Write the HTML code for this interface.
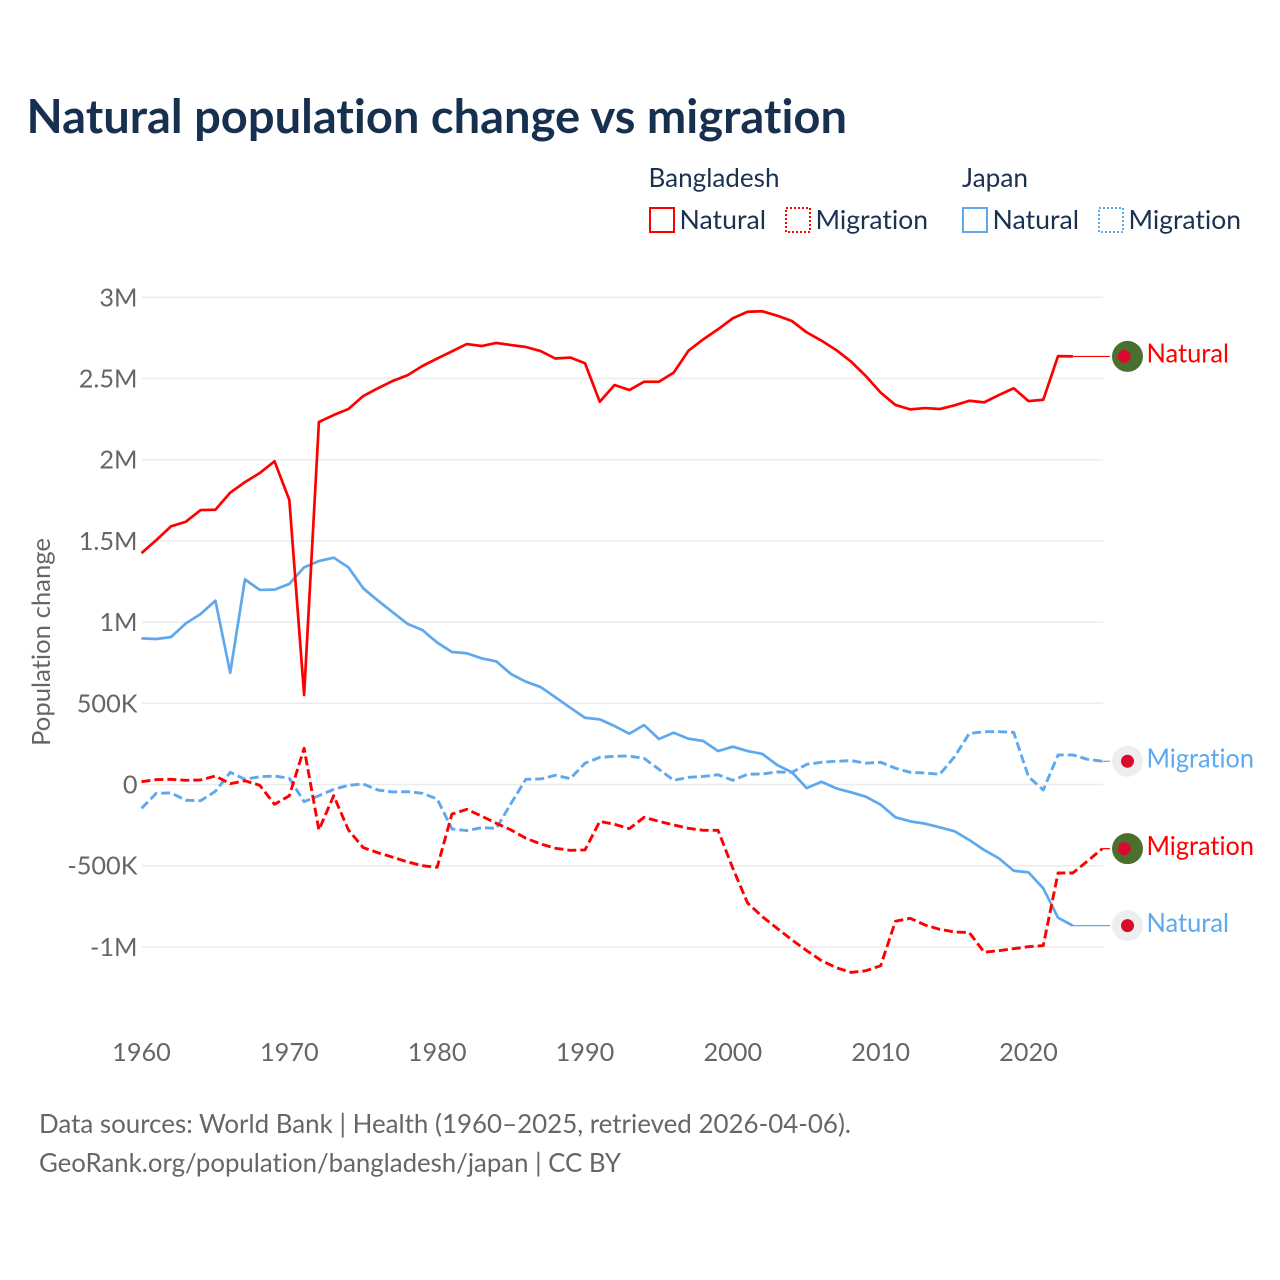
<!DOCTYPE html>
<html lang="en">
<head>
<meta charset="utf-8">
<title>Natural population change vs migration</title>
<style>
html,body{margin:0;padding:0;background:#fff;}
svg{display:block;}
text{font-family:"Lato","Carlito","Liberation Sans",sans-serif;font-variant-ligatures:none;font-feature-settings:"liga" 0,"clig" 0;}
</style>
</head>
<body>
<svg id="chart" xmlns="http://www.w3.org/2000/svg" width="1280" height="1280" viewBox="0 0 1280 1280">
  <rect x="0" y="0" width="1280" height="1280" fill="#ffffff"/>
  <text x="26.5" y="133" font-size="47" font-weight="700" fill="#18304f" textLength="820.5" lengthAdjust="spacingAndGlyphs">Natural population change vs migration</text>

  <g font-size="26" fill="#1a3150">
    <text x="648.5" y="187" textLength="131" lengthAdjust="spacingAndGlyphs">Bangladesh</text>
    <text x="962" y="187" textLength="66" lengthAdjust="spacingAndGlyphs">Japan</text>
    <rect x="650" y="208" width="24" height="24" fill="none" stroke="#ff0000" stroke-width="2"/>
    <text x="679.5" y="229" textLength="86.5" lengthAdjust="spacingAndGlyphs">Natural</text>
    <rect x="786" y="208" width="24" height="24" fill="none" stroke="#ff0000" stroke-width="2" stroke-dasharray="2 2"/>
    <text x="815.5" y="229" textLength="112.5" lengthAdjust="spacingAndGlyphs">Migration</text>
    <rect x="963" y="208" width="24" height="24" fill="none" stroke="#5ea8ee" stroke-width="2"/>
    <text x="992.5" y="229" textLength="86.5" lengthAdjust="spacingAndGlyphs">Natural</text>
    <rect x="1099" y="208" width="24" height="24" fill="none" stroke="#5ea8ee" stroke-width="2" stroke-dasharray="2 2"/>
    <text x="1128.5" y="229" textLength="112.5" lengthAdjust="spacingAndGlyphs">Migration</text>
  </g>

  <g id="grid"></g>
  <g id="yticks"></g>
  <g id="xticks"></g>
  <g id="series"></g>
  <g id="endlabels"></g>

  <text transform="translate(50,642) rotate(-90)" text-anchor="middle" font-size="25" fill="#666666" textLength="208" lengthAdjust="spacingAndGlyphs">Population change</text>
  <text x="39" y="1133" font-size="26" fill="#666666" textLength="812" lengthAdjust="spacingAndGlyphs">Data sources: World Bank | Health (1960–2025, retrieved 2026-04-06).</text>
  <text x="39" y="1172" font-size="26" fill="#666666" textLength="582" lengthAdjust="spacingAndGlyphs">GeoRank.org/population/bangladesh/japan | CC BY</text>
</svg>
<script>
const startYear = 1960;
const xTickYears = [1960, 1970, 1980, 1990, 2000, 2010, 2020];
const yTickValues = [3, 2.5, 2, 1.5, 1, 0.5, 0, -0.5, -1];
const yTickLabels = ['3M', '2.5M', '2M', '1.5M', '1M', '500K', '0', '-500K', '-1M'];

// Values in millions of people, one per year from 1960.
const bangladeshNatural = [1.425,1.505,1.59,1.618,1.69,1.692,1.797,1.862,1.918,1.99,1.752,0.551,2.232,2.275,2.312,2.392,2.44,2.485,2.52,2.577,2.623,2.667,2.712,2.70,2.719,2.706,2.694,2.669,2.623,2.629,2.594,2.357,2.46,2.429,2.48,2.48,2.536,2.671,2.741,2.803,2.871,2.911,2.914,2.887,2.854,2.784,2.733,2.675,2.604,2.515,2.413,2.337,2.31,2.318,2.312,2.335,2.363,2.353,2.398,2.44,2.361,2.369,2.638,2.636];
const bangladeshMigration = [0.017,0.03,0.032,0.026,0.028,0.052,0.005,0.023,-0.005,-0.122,-0.069,0.223,-0.28,-0.069,-0.28,-0.389,-0.42,-0.448,-0.477,-0.5,-0.51,-0.182,-0.153,-0.194,-0.239,-0.28,-0.331,-0.366,-0.393,-0.405,-0.403,-0.227,-0.245,-0.272,-0.202,-0.227,-0.249,-0.27,-0.282,-0.282,-0.516,-0.73,-0.814,-0.886,-0.957,-1.023,-1.085,-1.128,-1.157,-1.147,-1.116,-0.842,-0.824,-0.865,-0.892,-0.908,-0.912,-1.033,-1.023,-1.011,-0.999,-0.992,-0.545,-0.545,-0.471,-0.395];
const japanNatural = [0.90,0.896,0.908,0.992,1.05,1.132,0.688,1.263,1.198,1.20,1.235,1.337,1.376,1.397,1.337,1.208,1.132,1.06,0.989,0.951,0.874,0.816,0.808,0.777,0.758,0.68,0.633,0.60,0.537,0.473,0.411,0.401,0.36,0.313,0.366,0.28,0.319,0.282,0.268,0.206,0.233,0.206,0.188,0.12,0.075,-0.022,0.017,-0.024,-0.048,-0.075,-0.124,-0.202,-0.227,-0.241,-0.264,-0.288,-0.342,-0.403,-0.455,-0.531,-0.541,-0.639,-0.82,-0.869];
const japanMigration = [-0.147,-0.054,-0.052,-0.097,-0.1,-0.042,0.075,0.032,0.048,0.052,0.038,-0.106,-0.069,-0.03,-0.005,0.003,-0.034,-0.046,-0.044,-0.054,-0.089,-0.274,-0.284,-0.266,-0.27,-0.116,0.032,0.034,0.057,0.036,0.131,0.167,0.174,0.175,0.161,0.094,0.026,0.044,0.05,0.06,0.026,0.063,0.065,0.077,0.075,0.124,0.137,0.143,0.147,0.131,0.137,0.1,0.075,0.071,0.063,0.171,0.315,0.325,0.325,0.321,0.048,-0.034,0.182,0.182,0.155,0.143];

const NS = 'http://www.w3.org/2000/svg';
const RED = '#ff0000';
const BLUE = '#5ea8ee';
const xOf = function (year) { return 141.5 + (year - 1960) * 14.783; };
const yOf = function (m) { return 784.5 - m * 162.4; };

const make = function (tag, parent, attrs) {
  const el = document.createElementNS(NS, tag);
  Object.keys(attrs).forEach(function (k) { el.setAttribute(k, attrs[k]); });
  parent.appendChild(el);
  return el;
};

const grid = document.getElementById('grid');
const yticks = document.getElementById('yticks');
yTickValues.forEach(function (v, i) {
  const line = make('line', grid, {x1: 142, x2: 1103, y1: yOf(v), y2: yOf(v), stroke: '#ebebeb', 'stroke-width': 1.5});
  
  
  const t = make('text', yticks, {x: 137.5, y: yOf(v) + 9, 'text-anchor': 'end', 'font-size': 25.3, fill: '#666666'});
  t.textContent = yTickLabels[i];
  
  
});

const xticks = document.getElementById('xticks');
xTickYears.forEach(function (yr) {
  const t = make('text', xticks, {x: xOf(yr), y: 1061, 'text-anchor': 'middle', 'font-size': 25.3, fill: '#666666'});
  t.textContent = String(yr);
  
  
});

const seriesGroup = document.getElementById('series');
const labelGroup = document.getElementById('endlabels');

const drawSeries = function (values, color, dashed, seriesName) {
  const pts = values.map(function (v, i) {
    return xOf(startYear + i).toFixed(2) + ',' + yOf(v).toFixed(2);
  }).join(' ');
  const attrs = {points: pts, fill: 'none', stroke: color, 'stroke-width': dashed ? 2.9 : 2.7, 'stroke-linejoin': 'round'};
  if (dashed) { attrs['stroke-dasharray'] = '9 4'; }
  const line = make('polyline', seriesGroup, attrs);
  
  

  const lastYear = startYear + values.length - 1;
  const lastVal = values[values.length - 1];
  const conn = make('line', seriesGroup, {x1: xOf(lastYear), x2: 1110, y1: yOf(lastVal), y2: yOf(lastVal), stroke: color, 'stroke-width': 1.2});
  
  
};

const drawEndLabel = function (values, color, text, flag, seriesName) {
  const cy = yOf(values[values.length - 1]);
  const bg = make('circle', labelGroup, {cx: 1127.5, cy: cy, r: 15.5, fill: flag === 'bd' ? '#4b6f2e' : '#eeeeee'});
  
  
  const dot = make('circle', labelGroup, {cx: flag === 'bd' ? 1124.2 : 1127.5, cy: cy, r: 6.5, fill: '#d80a2e'});
  
  
  const t = make('text', labelGroup, {x: 1146.5, y: cy + 6.3, 'font-size': 26, fill: color, textLength: text === 'Natural' ? 82.5 : 107.5, lengthAdjust: 'spacingAndGlyphs'});
  t.textContent = text;
  
  
};

drawSeries(japanNatural, BLUE, false, 'japan-natural');
drawSeries(japanMigration, BLUE, true, 'japan-migration');
drawSeries(bangladeshNatural, RED, false, 'bangladesh-natural');
drawSeries(bangladeshMigration, RED, true, 'bangladesh-migration');

drawEndLabel(bangladeshNatural, RED, 'Natural', 'bd', 'bangladesh-natural');
drawEndLabel(japanMigration, BLUE, 'Migration', 'jp', 'japan-migration');
drawEndLabel(bangladeshMigration, RED, 'Migration', 'bd', 'bangladesh-migration');
drawEndLabel(japanNatural, BLUE, 'Natural', 'jp', 'japan-natural');
</script>
</body>
</html>
